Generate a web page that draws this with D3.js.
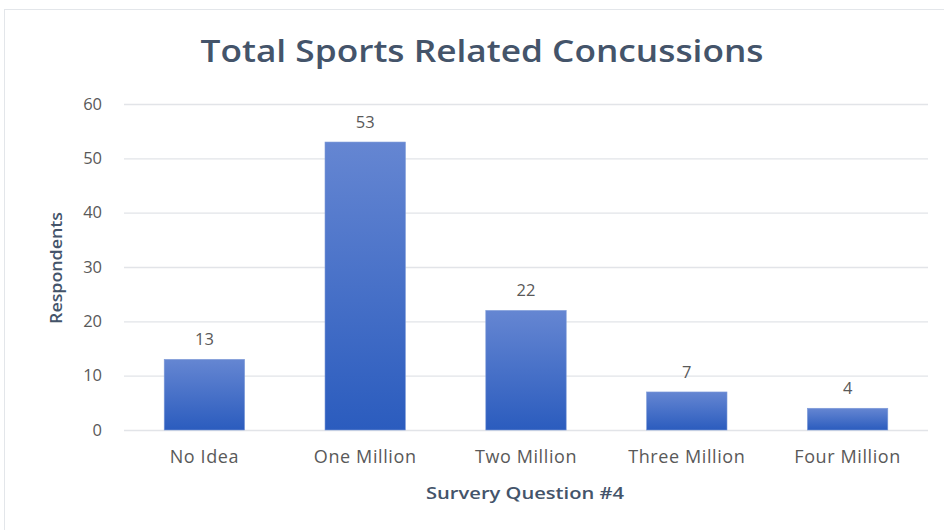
<!DOCTYPE html>
<html>
<head>
<meta charset="utf-8">
<script src="https://cdn.jsdelivr.net/npm/d3@7"></script>
<style>
  body { margin: 0; background: #fff; }
  text { font-family: "Open Sans", "Noto Sans", sans-serif; }
</style>
</head>
<body>
<div id="chart"></div>
<script>
/* Survey bar chart */

const categories = ["No Idea", "One Million", "Two Million", "Three Million", "Four Million"];
const respondents = [13, 53, 22, 7, 4];
const yTicks = [0, 10, 20, 30, 40, 50, 60];

const width = 944,
    height = 530,
    margin = ({ top: 104, right: 16, bottom: 100, left: 124 });

const svg = d3.select("#chart")
    .append("svg")
    .attr("width", width)
    .attr("height", height);

// chart border
svg.append("rect")
    .attr("x", 4.5).attr("y", 9.5)
    .attr("width", width + 10).attr("height", height)
    .attr("fill", "none")
    .attr("stroke", "#e3e6ea");

const defs = svg.append("defs");
const grad = defs.append("linearGradient")
    .attr("id", "barGrad")
    .attr("x1", 0).attr("y1", 0).attr("x2", 0).attr("y2", 1);
grad.append("stop").attr("offset", "0%").attr("stop-color", "#6586d2");
grad.append("stop").attr("offset", "100%").attr("stop-color", "#2b5cbe");

let x = d3.scaleBand()
    .domain(categories)
    .range([margin.left, width - margin.right])
    .paddingInner(0.5)
    .paddingOuter(0.25);

let y = d3.scaleLinear()
    .domain([0, 60])
    .range([430, margin.top]);

// gridlines + y labels
svg.append("g")
    .attr("class", "y-axis")
    .attr("transform", `translate(${margin.left},0)`)
    .call(d3.axisLeft(y).tickValues(yTicks).tickSize(-(width - margin.right - margin.left)).tickPadding(22))
    .call(g => g.select(".domain").remove())
    .call(g => g.selectAll(".tick line").attr("stroke", "#e2e4e8").attr("stroke-width", 1.3))
    .call(g => g.selectAll(".tick text")
        .attr("font-size", 16.5)
        .attr("fill", "#595959"));

// bars
svg.append("g")
    .selectAll("rect")
    .data(categories)
    .join("rect")
    .attr("x", d => x(d))
    .attr("width", x.bandwidth())
    .attr("y", (d, i) => y(respondents[i]))
    .attr("height", (d, i) => y(0) - y(respondents[i]))
    .attr("fill", "url(#barGrad)")
    .attr("stroke", "#7d9ad8")
    .attr("stroke-width", 0.6);

// value labels
svg.append("g")
    .selectAll("text")
    .data(categories)
    .join("text")
    .attr("x", d => x(d) + x.bandwidth() / 2)
    .attr("y", (d, i) => y(respondents[i]) - 14)
    .attr("text-anchor", "middle")
    .attr("font-size", 16.5)
    .attr("fill", "#595959")
    .text((d, i) => respondents[i]);

// x labels
svg.append("g")
    .attr("transform", `translate(0,${y(0)})`)
    .call(d3.axisBottom(x).tickSize(0).tickPadding(20))
    .call(g => g.select(".domain").remove())
    .call(g => g.selectAll(".tick text")
        .attr("font-size", 18)
        .attr("letter-spacing", "0.6px")
        .attr("fill", "#595959"));

svg.append("text")                  // title
    .attr("x", 482)
    .attr("y", 62)
    .attr("text-anchor", "middle")
    .attr("font-size", 30)
    .attr("font-weight", 600)
    .attr("fill", "#44546a")
    .attr("textLength", 563)
    .attr("lengthAdjust", "spacingAndGlyphs")
    .text("Total Sports Related Concussions");

svg.append("text")                  // x axis label
    .attr("x", 525)
    .attr("y", 499)
    .attr("text-anchor", "middle")
    .attr("font-size", 16)
    .attr("font-weight", 600)
    .attr("fill", "#44546a")
    .attr("textLength", 198)
    .attr("lengthAdjust", "spacingAndGlyphs")
    .text("Survery Question #4");

svg.append("text")                  // y axis label
    .attr("transform", "rotate(-90)")
    .attr("x", -268)
    .attr("y", 62)
    .attr("text-anchor", "middle")
    .attr("font-size", 16)
    .attr("font-weight", 600)
    .attr("fill", "#44546a")
    .attr("textLength", 112)
    .attr("lengthAdjust", "spacingAndGlyphs")
    .text("Respondents");
</script>
</body>
</html>
